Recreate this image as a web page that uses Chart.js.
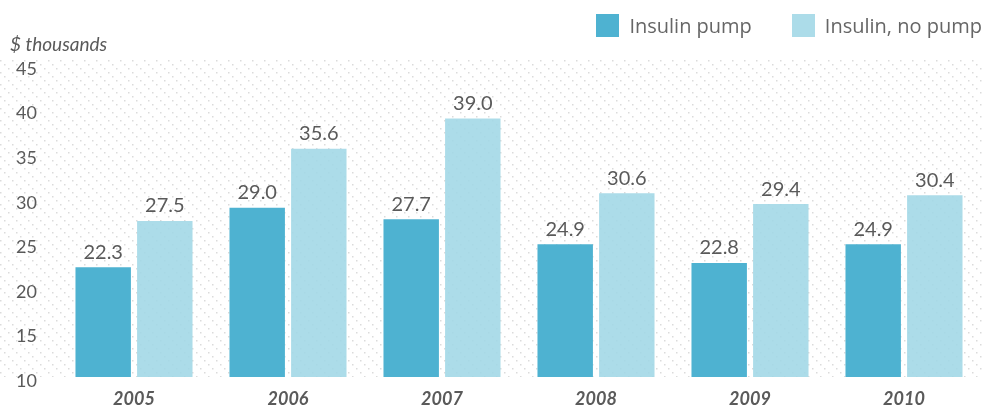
<!DOCTYPE html>
<html>
<head>
<meta charset="utf-8">
<script src="https://cdn.jsdelivr.net/npm/chart.js@4"></script>
<style>
  html, body { margin: 0; padding: 0; background: #fff; }
  #wrap { width: 983px; height: 409px; position: relative; }
  #legend { position: absolute; right: 1px; top: 12px; display: flex; align-items: center;
            font-family: 'Open Sans', sans-serif; font-size: 20px; color: #666; }
  #legend .item { display: flex; align-items: center; margin-left: 40px; }
  #legend .box { width: 23px; height: 23px; margin-right: 10px; }
</style>
</head>
<body>
<div id="wrap"><canvas id="chart"></canvas><div id="legend"></div></div>
<script>
const years = ["2005", "2006", "2007", "2008", "2009", "2010"];
const pumpValues = [22.3, 29.0, 27.7, 24.9, 22.8, 24.9];
const noPumpValues = [27.5, 35.6, 39.0, 30.6, 29.4, 30.4];
const seriesNames = ["Insulin pump", "Insulin, no pump"];
const seriesColors = ["#4eb2d1", "rgba(160,215,230,0.88)"];

const numFont = "Lato, 'Open Sans', sans-serif";
const textColor = "#5a5a5a";

// dotted diagonal background pattern
function makePattern(ctx) {
  const tile = document.createElement("canvas");
  tile.width = 12; tile.height = 12;
  const t = tile.getContext("2d");
  t.fillStyle = "rgba(0,0,0,0.14)";
  [0, 4, 8].forEach(p => t.fillRect(p, p, 1.5, 1.5));
  return ctx.createPattern(tile, "repeat");
}

const backgroundPlugin = {
  id: "bgPattern",
  beforeDatasetsDraw(chart) {
    const { ctx, chartArea } = chart;
    ctx.save();
    ctx.fillStyle = makePattern(ctx);
    ctx.fillRect(0, 58, chart.width, chartArea.bottom - 58);
    ctx.restore();
  }
};

const labelsPlugin = {
  id: "barLabels",
  afterDatasetsDraw(chart) {
    const { ctx } = chart;
    ctx.save();
    ctx.font = "20px " + numFont;
    ctx.fillStyle = textColor;
    ctx.textAlign = "center";
    ctx.textBaseline = "bottom";
    chart.data.datasets.forEach((ds, i) => {
      chart.getDatasetMeta(i).data.forEach((bar, j) => {
        ctx.fillText(ds.data[j].toFixed(1), bar.x, bar.y - 5);
      });
    });
    // axis unit label
    ctx.font = "italic 19px " + numFont;
    ctx.textAlign = "left";
    ctx.textBaseline = "alphabetic";
    ctx.fillText("$ thousands", 10, 51);
    ctx.restore();
  }
};

// html legend
const legendEl = document.getElementById("legend");
seriesNames.forEach((name, i) => {
  const item = document.createElement("div");
  item.className = "item";
  item.innerHTML = `<span class="box" style="background:${seriesColors[i]}"></span><span>${name}</span>`;
  legendEl.appendChild(item);
});

new Chart(document.getElementById("chart"), {
  type: "bar",
  data: {
    labels: years,
    datasets: [
      { label: seriesNames[0], data: pumpValues, backgroundColor: seriesColors[0] },
      { label: seriesNames[1], data: noPumpValues, backgroundColor: seriesColors[1] }
    ]
  },
  options: {
    responsive: true,
    maintainAspectRatio: false,
    animation: false,
    layout: { padding: { left: 0, right: 2, top: 65, bottom: 0 } },
    datasets: { bar: { categoryPercentage: 0.8, barPercentage: 0.9 } },
    plugins: {
      tooltip: { enabled: false },
      legend: { display: false }
    },
    scales: {
      x: {
        grid: { display: false, drawTicks: false },
        border: { display: false },
        afterFit(scale) { scale.height = 32; },
        ticks: {
          color: textColor,
          padding: 11,
          font: { family: numFont, size: 18, weight: "bold", style: "italic" }
        }
      },
      y: {
        min: 10,
        max: 45,
        grid: { display: false, drawTicks: false },
        border: { display: false },
        afterFit(scale) { scale.width = 57; },
        ticks: {
          stepSize: 5,
          padding: 20,
          labelOffset: 4,
          color: textColor,
          font: { family: numFont, size: 18 }
        }
      }
    }
  },
  plugins: [backgroundPlugin, labelsPlugin]
});
</script>
</body>
</html>
